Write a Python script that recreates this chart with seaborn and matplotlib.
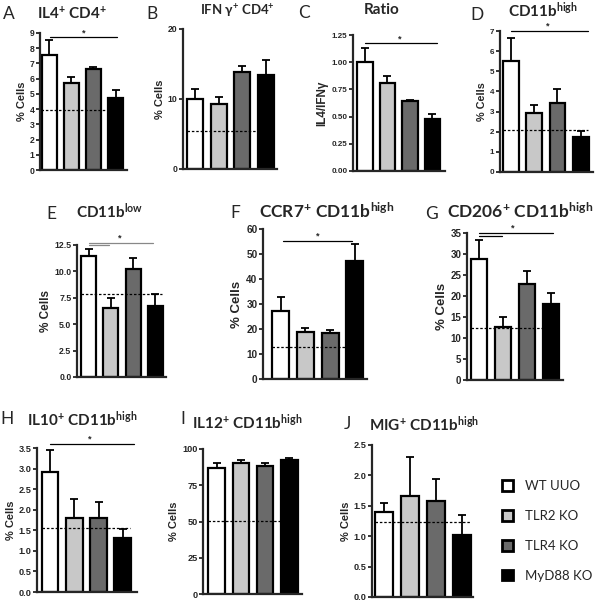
import numpy as np
import pandas as pd
import matplotlib
matplotlib.use("Agg")
import matplotlib.pyplot as plt
from matplotlib.patches import Patch
from matplotlib.ticker import FormatStrFormatter
import seaborn as sns

# groups and bar fills
groups = ["WT UUO", "TLR2 KO", "TLR4 KO", "MyD88 KO"]
bar_colors = ["#FFFFFF", "#C8C8C8", "#6A6A6A", "#000000"]

# values (mean, upper SEM, dashed baseline)
il4_mean = [7.57, 5.70, 6.64, 4.76]
il4_sem = [0.98, 0.40, 0.11, 0.50]
il4_base = 3.95

ifn_mean = [10.0, 9.29, 13.86, 13.38]
ifn_sem = [1.48, 1.04, 0.81, 2.24]
ifn_base = 5.38

ratio_mean = [1.0, 0.81, 0.645, 0.476]
ratio_sem = [0.13, 0.06, 0.007, 0.052]

cd11b_high_mean = [5.51, 2.95, 3.45, 1.72]
cd11b_high_sem = [1.12, 0.40, 0.66, 0.33]
cd11b_high_base = 2.07

cd11b_low_mean = [11.49, 6.49, 10.19, 6.71]
cd11b_low_sem = [0.60, 1.01, 1.11, 1.14]
cd11b_low_base = 7.85

ccr7_mean = [27.4, 18.7, 18.3, 47.1]
ccr7_sem = [5.4, 1.6, 1.4, 7.0]
ccr7_base = 13.0

cd206_mean = [28.8, 12.6, 22.8, 18.2]
cd206_sem = [4.5, 2.5, 3.1, 2.4]
cd206_base = 12.3

il10_mean = [2.92, 1.79, 1.79, 1.31]
il10_sem = [0.52, 0.48, 0.40, 0.22]
il10_base = 1.55

il12_mean = [87.1, 90.6, 88.3, 92.4]
il12_sem = [3.2, 1.8, 2.0, 1.6]
il12_base = 50.6

mig_mean = [1.40, 1.66, 1.58, 1.02]
mig_sem = [0.15, 0.64, 0.36, 0.33]
mig_base = 1.24

sns.set_theme(style="ticks")
plt.rcParams["font.family"] = ["Liberation Sans", "DejaVu Sans"]
plt.rcParams["mathtext.default"] = "regular"

W, H = 601, 604
fig = plt.figure(figsize=(W / 100, H / 100), dpi=100)


def add_panel(rect, xlim, yticks, fmt, means, sems, base, ylabel, tick_fs, label_fs):
    left, right, y0, ytop = rect
    ax = fig.add_axes([left / W, 1 - y0 / H, (right - left) / W, (y0 - ytop) / H])
    df = pd.DataFrame({"group": groups, "value": means})
    sns.barplot(data=df, x="group", y="value", hue="group", palette=bar_colors,
                width=0.68, edgecolor="black", linewidth=1.6, errorbar=None,
                legend=False, ax=ax, zorder=2)
    ax.errorbar(np.arange(4), means, yerr=[np.zeros(4), sems], fmt="none",
                ecolor="black", elinewidth=1.3, capsize=3, capthick=1.3, zorder=3)
    if base is not None:
        ax.hlines(base, -0.35, 3.3, colors="black", linestyles=(0, (2, 1.5)),
                  linewidth=0.9, zorder=4)
    ax.set_xlim(*xlim)
    ax.set_ylim(yticks[0], yticks[-1])
    ax.set_yticks(yticks)
    ax.yaxis.set_major_formatter(FormatStrFormatter(fmt))
    ax.set_xticks([])
    ax.set_xlabel("")
    ax.set_ylabel(ylabel, fontsize=label_fs, fontweight="bold", labelpad=2)
    sns.despine(ax=ax)
    for side in ["left", "bottom"]:
        ax.spines[side].set_linewidth(1.6)
    ax.tick_params(axis="y", length=3, width=1.3, labelsize=tick_fs, pad=1)
    for lbl in ax.get_yticklabels():
        lbl.set_fontweight("bold")
    ax.patch.set_alpha(0)
    return ax


def add_sig(ax, x0, x1, y, color="black"):
    ax.plot([x0, x1], [y, y], color=color, lw=0.9, clip_on=False, zorder=5)


def add_star(ax, x, y, fs=6.5):
    ax.text(x, y, "*", ha="center", va="bottom", fontsize=fs, fontweight="bold", clip_on=False)


def head(x, y, letter_xy, title, letter, fs):
    fig.text(x / W, 1 - y / H, title, ha="center", va="center", fontsize=fs,
             fontweight="bold", family="Lato")
    fig.text(letter_xy[0] / W, 1 - letter_xy[1] / H, letter, ha="center", va="center",
             fontsize=12.5, family="Lato")


# A
ax = add_panel((40, 127, 170, 33), (-0.41, 3.51), np.arange(0, 10, 1), "%d",
               il4_mean, il4_sem, il4_base, "% Cells", 6.2, 8)
add_sig(ax, 0.05, 3.06, 8.73)
add_star(ax, 1.55, 8.73)
head(72, 14, (9, 14), r"IL4$^{+}$ CD4$^{+}$", "A", 11)

# B
ax = add_panel((183, 277, 169, 29), (-0.51, 3.46), [0, 10, 20], "%d",
               ifn_mean, ifn_sem, ifn_base, "% Cells", 6.2, 8)
head(237, 11, (152, 14), r"IFN γ$^{+}$ CD4$^{+}$", "B", 9.5)

# C
ax = add_panel((353, 445, 171, 35), (-0.53, 3.56), np.arange(0, 1.26, 0.25), "%.2f",
               ratio_mean, ratio_sem, None, "IL4/IFNγ", 5.8, 8.5)
add_sig(ax, 0.0, 3.2, 1.173)
add_star(ax, 1.55, 1.173)
head(382, 10, (304, 13), "Ratio", "C", 11)

# D
ax = add_panel((500, 593, 172, 31), (-0.47, 3.53), np.arange(0, 8, 1), "%d",
               cd11b_high_mean, cd11b_high_sem, cd11b_high_base, "% Cells", 5.8, 7.8)
add_sig(ax, 0.0, 3.3, 7.0)
add_star(ax, 1.6, 7.0)
head(543, 10, (477, 15), r"CD11b$^{high}$", "D", 11)

# E
ax = add_panel((77, 166, 377, 245), (-0.52, 3.48), np.arange(0, 12.6, 2.5), "%.1f",
               cd11b_low_mean, cd11b_low_sem, cd11b_low_base, "% Cells", 6.3, 8.5)
add_sig(ax, 0.0, 2.9, 12.72, color="#888888")
add_sig(ax, 0.0, 0.9, 12.5, color="#888888")
add_star(ax, 1.4, 12.72)
head(110, 211, (51, 214), r"CD11b$^{low}$", "E", 11)

# F
ax = add_panel((263, 367, 379, 229), (-0.71, 3.49), np.arange(0, 61, 10), "%d",
               ccr7_mean, ccr7_sem, ccr7_base, "% Cells", 7.2, 9.5)
add_sig(ax, 0.1, 2.9, 55.3)
add_star(ax, 1.5, 55.3)
head(327, 211, (235, 213), r"CCR7$^{+}$ CD11b$^{high}$", "F", 12.5)

# G
ax = add_panel((467, 563, 380, 233), (-0.5, 3.5), np.arange(0, 36, 5), "%d",
               cd206_mean, cd206_sem, cd206_base, "% Cells", 7, 9.5)
add_sig(ax, 0.0, 3.1, 35.0)
add_sig(ax, 0.0, 0.96, 34.4)
add_star(ax, 1.4, 35.0)
head(520, 211, (431, 214), r"CD206$^{+}$ CD11b$^{high}$", "G", 12.5)

# H
ax = add_panel((37, 137, 592, 448), (-0.54, 3.59), np.arange(0, 3.6, 0.5), "%.1f",
               il10_mean, il10_sem, il10_base, "% Cells", 6.6, 8)
add_sig(ax, 0.0, 3.45, 3.6)
add_star(ax, 1.65, 3.6)
head(82, 419, (7, 419), r"IL10$^{+}$ CD11b$^{high}$", "H", 11)

# I
ax = add_panel((203, 302, 594, 449), (-0.56, 3.52), [0, 25, 50, 75, 100], "%d",
               il12_mean, il12_sem, il12_base, "% Cells", 6.6, 8)
head(247, 422, (183, 419), r"IL12$^{+}$ CD11b$^{high}$", "I", 11)

# J
ax = add_panel((372, 473, 597, 445), (-0.46, 3.42), np.arange(0, 2.6, 0.5), "%.1f",
               mig_mean, mig_sem, mig_base, "% Cells", 6.6, 8)
head(424, 424, (347, 424), r"MIG$^{+}$ CD11b$^{high}$", "J", 11)

# legend
handles = [Patch(facecolor=c, edgecolor="black", linewidth=2) for c in bar_colors]
fig.legend(handles, groups, loc="center left", bbox_to_anchor=(490 / W, 1 - 531 / H),
           frameon=False, prop={"family": "Lato", "size": 9.5}, handlelength=0.85,
           handleheight=0.85, labelspacing=1.35, handletextpad=0.9)

fig.savefig("out.png", dpi=100)
